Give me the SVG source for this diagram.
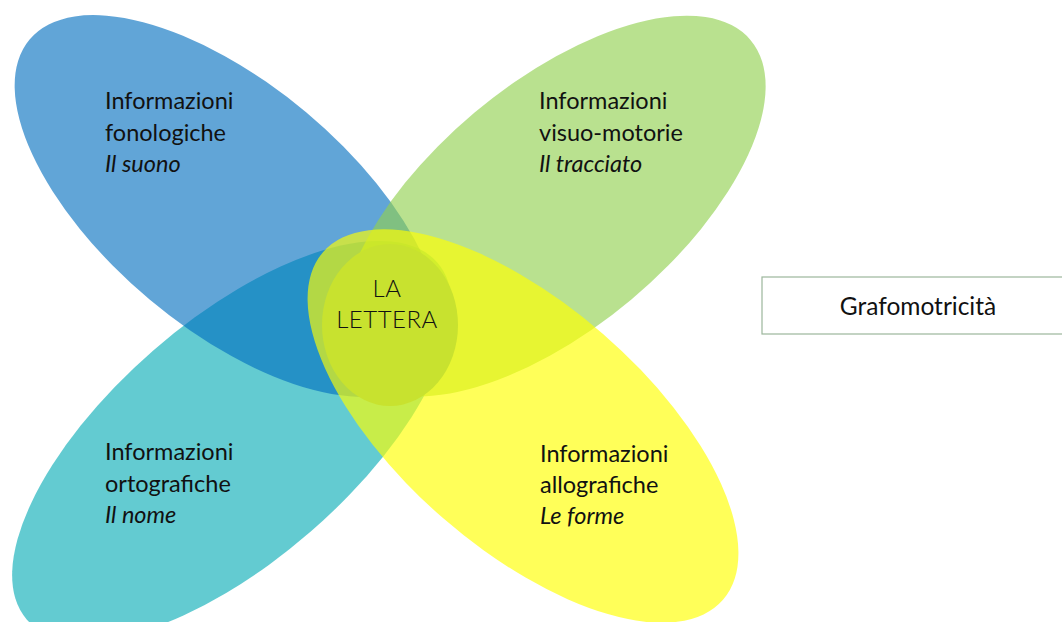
<svg xmlns="http://www.w3.org/2000/svg" width="1062" height="622" viewBox="0 0 1062 622">
  <style>
    .lbl { font-family: Lato, "Noto Sans", "DejaVu Sans", sans-serif; font-size: 23.5px; fill: #111; }
    .it { font-style: italic; }
    .ctr { font-family: Lato, "Noto Sans", "DejaVu Sans", sans-serif; font-size: 24px; font-weight: 300; fill: #111; text-anchor: middle; letter-spacing: 0.5px; }
    .box { fill: #ffffff; stroke: #9cb69c; stroke-width: 1.2; }
    .big { font-size: 24.5px; }
  </style>
  <rect x="0" y="0" width="1062" height="622" fill="#ffffff"/>

  <g id="node-ortografiche">
    <ellipse cx="232" cy="441" rx="272" ry="120" transform="rotate(-41 232 441)" fill="#63cbd1"/>
  </g>
  <g id="node-fonologiche">
    <ellipse cx="228" cy="206" rx="259" ry="122" transform="rotate(40 228 206)" fill="rgb(0,110,190)" fill-opacity="0.62"/>
  </g>
  <g id="node-visuomotorie">
    <ellipse cx="553" cy="206" rx="258" ry="122" transform="rotate(-40 553 206)" fill="#92d050" fill-opacity="0.64"/>
  </g>
  <g id="node-allografiche">
    <ellipse cx="523" cy="426" rx="265" ry="122" transform="rotate(41 523 426)" fill="#ffff00" fill-opacity="0.65"/>
  </g>
  <g id="node-lettera">
    <ellipse cx="390" cy="325" rx="68" ry="81" fill="#c8e22f"/>
    <text class="ctr" x="387" y="297">LA</text>
    <text class="ctr" x="387" y="328">LETTERA</text>
  </g>

  <g id="labels-fonologiche">
    <text class="lbl" x="105" y="109">Informazioni</text>
    <text class="lbl" x="105" y="141">fonologiche</text>
    <text class="lbl it" x="105" y="172">Il suono</text>
  </g>
  <g id="labels-visuomotorie">
    <text class="lbl" x="539" y="109">Informazioni</text>
    <text class="lbl" x="539" y="141">visuo-motorie</text>
    <text class="lbl it" x="539" y="172">Il tracciato</text>
  </g>
  <g id="labels-ortografiche">
    <text class="lbl" x="105" y="460">Informazioni</text>
    <text class="lbl" x="105" y="492">ortografiche</text>
    <text class="lbl it" x="105" y="523">Il nome</text>
  </g>
  <g id="labels-allografiche">
    <text class="lbl" x="540" y="462">Informazioni</text>
    <text class="lbl" x="540" y="493">allografiche</text>
    <text class="lbl it" x="540" y="524">Le forme</text>
  </g>

  <g id="node-grafomotricita">
    <rect class="box" x="762" y="277" width="320" height="57"/>
    <text class="lbl big" x="918" y="315" text-anchor="middle">Grafomotricità</text>
  </g>

  <g id="connectors"></g>
</svg>
